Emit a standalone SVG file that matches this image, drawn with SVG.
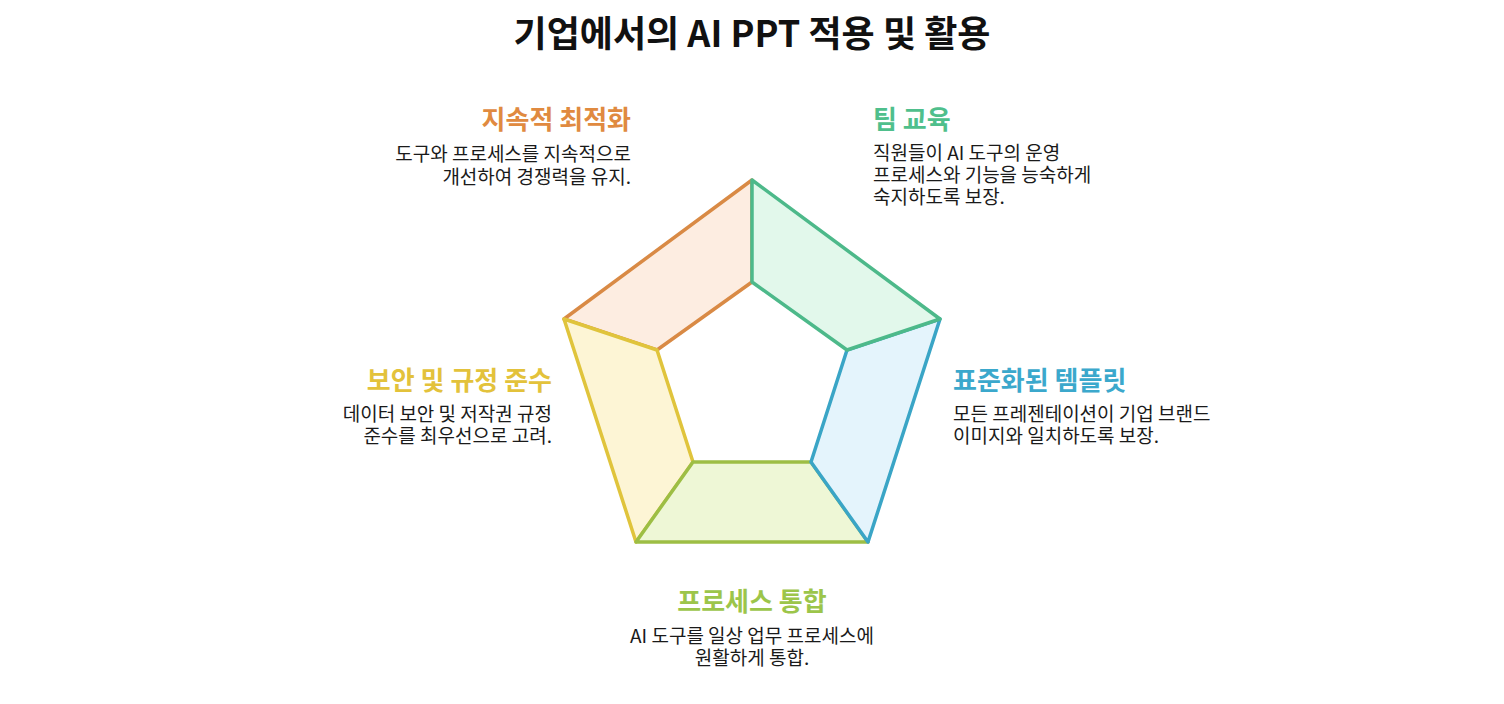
<svg xmlns="http://www.w3.org/2000/svg" width="1504" height="704" viewBox="0 0 1504 704">
<style>
text{font-family:"Noto Sans CJK KR","Noto Sans",sans-serif;}
.title{font-size:36px;font-weight:700;fill:#111;}
.h{font-size:26px;font-weight:700;}
.d{font-size:19px;fill:#1a1a1a;}
.seg{stroke-width:3.5;stroke-linejoin:round;}
</style>
<rect width="1504" height="704" fill="#ffffff"/>
<text class="title" x="752" y="47" text-anchor="middle">기업에서의 AI PPT 적용 및 활용</text>
<g id="connectors">
<g id="seg-orange"><polygon class="seg" points="564,319 752,180 752,282 657,350" fill="#FDEDE1" stroke="#D98A45"/></g>
<g id="seg-yellow"><polygon class="seg" points="636,542 564,319 657,350 693,462" fill="#FDF5D5" stroke="#E0C43C"/></g>
<g id="seg-lime"><polygon class="seg" points="868,542 636,542 693,462 811,462" fill="#EEF7D6" stroke="#9DBE45"/></g>
<g id="seg-blue"><polygon class="seg" points="940,319 868,542 811,462 847,350" fill="#E4F4FC" stroke="#3AA5C6"/></g>
<g id="seg-green"><polygon class="seg" points="752,180 940,319 847,350 752,282" fill="#E2F8EB" stroke="#4DB98A"/></g>
</g>
<g id="node-optimize" text-anchor="end">
<text class="h" x="631" y="129" fill="#E08A40">지속적 최적화</text>
<text class="d" x="631" y="161">도구와 프로세스를 지속적으로</text>
<text class="d" x="631" y="184">개선하여 경쟁력을 유지.</text>
</g>
<g id="node-training">
<text class="h" x="873" y="129" fill="#4FBF8C">팀 교육</text>
<text class="d" x="873" y="160">직원들이 AI 도구의 운영</text>
<text class="d" x="873" y="182">프로세스와 기능을 능숙하게</text>
<text class="d" x="873" y="204">숙지하도록 보장.</text>
</g>
<g id="node-security" text-anchor="end">
<text class="h" x="552" y="390" fill="#E3C23B">보안 및 규정 준수</text>
<text class="d" x="552" y="421">데이터 보안 및 저작권 규정</text>
<text class="d" x="552" y="443">준수를 최우선으로 고려.</text>
</g>
<g id="node-template">
<text class="h" x="953" y="390" fill="#3BA8CC">표준화된 템플릿</text>
<text class="d" x="953" y="421">모든 프레젠테이션이 기업 브랜드</text>
<text class="d" x="953" y="443">이미지와 일치하도록 보장.</text>
</g>
<g id="node-integration" text-anchor="middle">
<text class="h" x="752" y="611" fill="#9CC54A">프로세스 통합</text>
<text class="d" x="752" y="643">AI 도구를 일상 업무 프로세스에</text>
<text class="d" x="752" y="665">원활하게 통합.</text>
</g>
</svg>
